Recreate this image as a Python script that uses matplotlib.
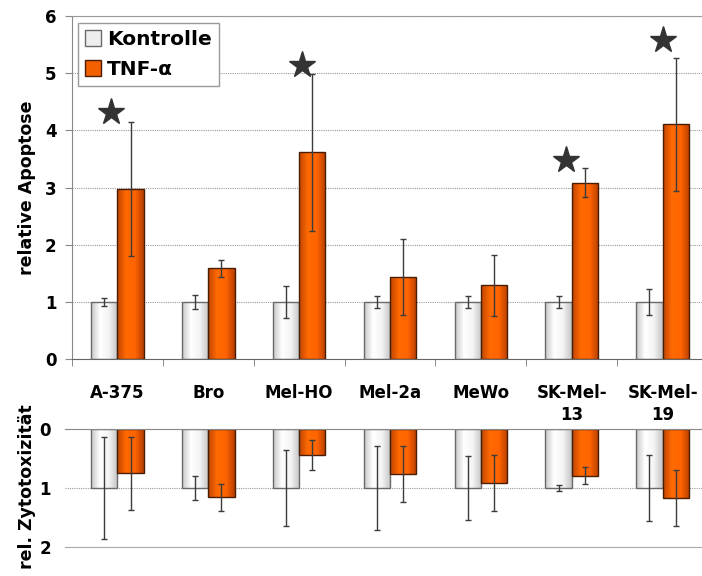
import numpy as np
import matplotlib
matplotlib.use('Agg')
from matplotlib import pyplot as plt
from matplotlib.colors import LinearSegmentedColormap

# Daten
zelllinien = ['A-375', 'Bro', 'Mel-HO', 'Mel-2a', 'MeWo', 'SK-Mel-\n13', 'SK-Mel-\n19']

apo_kontrolle = [1.0, 1.0, 1.0, 1.0, 1.0, 1.0, 1.0]
apo_kontrolle_err = [0.07, 0.12, 0.28, 0.11, 0.10, 0.10, 0.23]
apo_tnf = [2.97, 1.59, 3.62, 1.44, 1.29, 3.09, 4.11]
apo_tnf_err = [1.17, 0.15, 1.37, 0.66, 0.53, 0.25, 1.16]

zyto_kontrolle = [1.0, 1.0, 1.0, 1.0, 1.0, 1.0, 1.0]
zyto_kontrolle_err = [0.87, 0.21, 0.65, 0.72, 0.54, 0.055, 0.57]
zyto_tnf = [0.75, 1.16, 0.44, 0.76, 0.91, 0.79, 1.17]
zyto_tnf_err = [0.62, 0.235, 0.26, 0.48, 0.48, 0.145, 0.48]

# Sterne (signifikant)
stern_idx = [0, 2, 5, 6]
stern_dx = [-0.07, 0.03, -0.065, 0.0]
stern_y = [4.32, 5.15, 3.48, 5.58]

x = np.arange(len(zelllinien))
w = 0.29

cm_grau = LinearSegmentedColormap.from_list('grau', ['#c8c8c8', '#ffffff', '#f4f4f4', '#c4c4c4'])
cm_orange = LinearSegmentedColormap.from_list('orange', ['#c24400', '#ff6a00', '#ff6400', '#b83e00'])


def verlauf(ax, bars, cmap):
    # Farbverlauf in jeden Balken legen
    grad = np.linspace(0, 1, 64).reshape(1, -1)
    for p in bars.patches:
        x0, y0 = p.get_x(), p.get_y()
        im = ax.imshow(grad, extent=[x0, x0 + p.get_width(), y0, y0 + p.get_height()],
                       aspect='auto', cmap=cmap, zorder=1.5, interpolation='bilinear')
        im.set_clip_path(p)


err_kw = dict(ecolor='#3c3c3c', elinewidth=1, capsize=2.5, capthick=1, zorder=4)

fig = plt.figure(figsize=(7.02, 5.76), dpi=100)

# oben: relative Apoptose
ax1 = fig.add_axes([72 / 702, (576 - 359.3) / 576, (708 - 72) / 702, (359.3 - 16) / 576])
b1 = ax1.bar(x - w / 2, apo_kontrolle, w, yerr=apo_kontrolle_err, facecolor='none',
             edgecolor='#6a6a6a', lw=1, zorder=2, error_kw=err_kw, label='Kontrolle')
b2 = ax1.bar(x + w / 2, apo_tnf, w, yerr=apo_tnf_err, facecolor='none',
             edgecolor='#4a1e05', lw=1, zorder=2, error_kw=err_kw, label='TNF-α')
verlauf(ax1, b1, cm_grau)
verlauf(ax1, b2, cm_orange)
ax1.plot(x[stern_idx] + np.array(stern_dx), stern_y, ls='none', marker='*', ms=20,
         color='#333333', zorder=5)

ax1.set_xlim(-0.5, 6.5)
ax1.set_ylim(0, 6)
ax1.set_yticks(range(7))
ax1.set_yticklabels([str(i) for i in range(7)], fontsize=12, fontweight='bold')
ax1.set_xticks(x)
ax1.set_xticklabels(zelllinien, fontsize=12, fontweight='bold', linespacing=1.25, va='top')
ax1.set_xticks(np.arange(-0.5, 7, 1), minor=True)
ax1.tick_params(axis='x', which='major', length=0, pad=18)
ax1.tick_params(axis='x', which='minor', length=5, color='#777777')
ax1.tick_params(axis='y', length=5, color='#888888', pad=6)
ax1.yaxis.grid(True, ls=(0, (1, 1)), color='#9a9a9a', lw=0.8)
ax1.set_axisbelow(True)
for s, c in [('top', '#999999'), ('right', '#999999'), ('left', '#888888'), ('bottom', '#666666')]:
    ax1.spines[s].set_color(c)
leg = ax1.legend(handles=[b1, b2], loc='upper left', bbox_to_anchor=(6 / 636, 1 - 7 / 343),
                 borderaxespad=0, fancybox=False, edgecolor='#999999', framealpha=1,
                 prop=dict(weight='bold', size=14.5), handlelength=0.8, handleheight=0.8,
                 handletextpad=0.3, borderpad=0.35, labelspacing=0.55)
leg.get_frame().set_linewidth(1)
leg.legend_handles[0].set_facecolor('#eeeeee')
leg.legend_handles[1].set_facecolor('#f26000')
fig.text(27 / 702, 1 - 188 / 576, 'relative Apoptose', rotation=90, ha='center', va='center',
         fontsize=12.5, fontweight='bold')

# unten: rel. Zytotoxizitaet
ax2 = fig.add_axes([65 / 702, (576 - 546.7) / 576, (708 - 65) / 702, (546.7 - 429.3) / 576])
b3 = ax2.bar(x - w / 2, zyto_kontrolle, w, yerr=zyto_kontrolle_err, facecolor='none',
             edgecolor='#6a6a6a', lw=1, zorder=2, error_kw=dict(err_kw, capsize=2))
b4 = ax2.bar(x + w / 2, zyto_tnf, w, yerr=zyto_tnf_err, facecolor='none',
             edgecolor='#4a1e05', lw=1, zorder=2, error_kw=dict(err_kw, capsize=2))
verlauf(ax2, b3, cm_grau)
verlauf(ax2, b4, cm_orange)
ax2.set_xlim(-0.5 - 7 / 90.9, 6.5)
ax2.set_ylim(2, 0)
ax2.set_xticks([])
ax2.set_yticks([0, 1, 2])
ax2.set_yticklabels(['0', '1', '2'], fontsize=12, fontweight='bold')
ax2.tick_params(axis='y', length=0, pad=10)
ax2.yaxis.grid(True, ls=(0, (1, 1)), color='#9a9a9a', lw=0.8)
ax2.set_axisbelow(True)
ax2.spines['left'].set_visible(False)
ax2.spines['right'].set_visible(False)
ax2.spines['top'].set_color('#888888')
ax2.spines['bottom'].set_color('#aaaaaa')
fig.text(27 / 702, 1 - 487 / 576, 'rel. Zytotoxizität', rotation=90, ha='center', va='center',
         fontsize=12.5, fontweight='bold')

plt.savefig('out.png', dpi=100)
